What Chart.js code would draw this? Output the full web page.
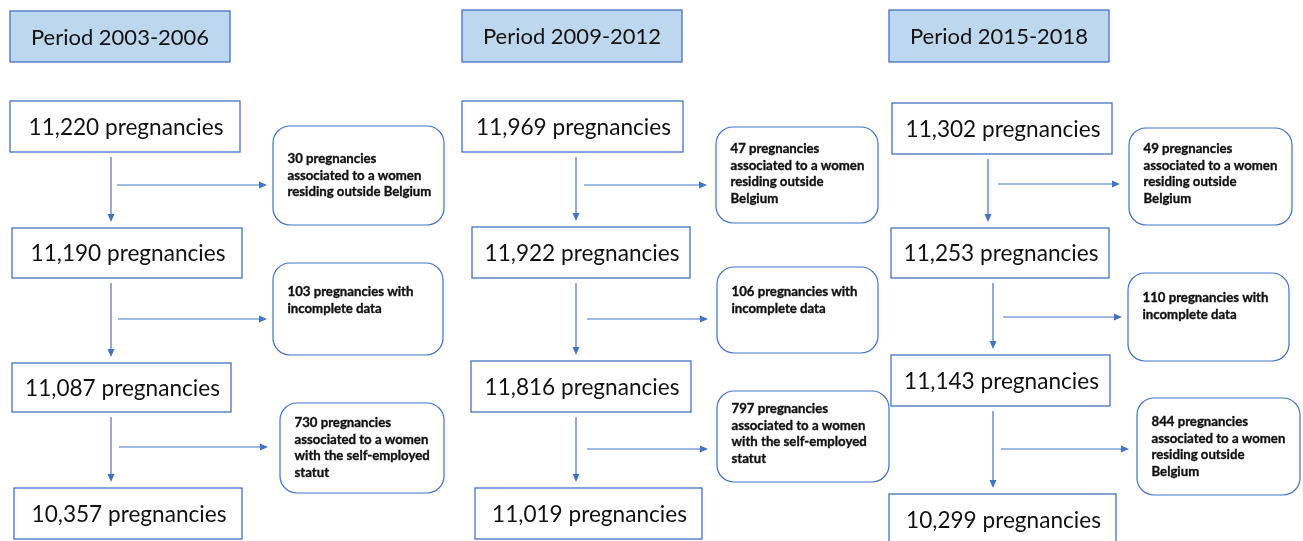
<!DOCTYPE html>
<html lang="en">

<head>
    <meta charset="UTF-8">
    <meta name="viewport" content="width=device-width, initial-scale=1.0">
    <title>Flowchart</title>
    <script src="https://cdn.jsdelivr.net/npm/chart.js"></script>
    <style>
        html, body { margin: 0; padding: 0; background: #ffffff; }
        #caixa { position: relative; width: 1303px; height: 541px; }
    </style>
</head>

<body>
    <div id="caixa">
        <canvas id="fluxo"></canvas>
    </div>

<script>
    // dados
    const periods = ['Period 2003-2006', 'Period 2009-2012', 'Period 2015-2018'];

    const included2003 = [11220, 11190, 11087, 10357];
    const included2009 = [11969, 11922, 11816, 11019];
    const included2015 = [11302, 11253, 11143, 10299];

    const excluded2003 = [30, 103, 730];
    const excluded2009 = [47, 106, 797];
    const excluded2015 = [49, 110, 844];

    // texto depois de "N pregnancies" (\n = quebra de linha como na figura)
    const reasons2003 = ['\nassociated to a women\nresiding outside Belgium', ' with\nincomplete data', '\nassociated to a women\nwith the self-employed\nstatut'];
    const reasons2009 = ['\nassociated to a women\nresiding outside\nBelgium', ' with\nincomplete data', '\nassociated to a women\nwith the self-employed\nstatut'];
    const reasons2015 = ['\nassociated to a women\nresiding outside\nBelgium', ' with\nincomplete data', '\nassociated to a women\nresiding outside\nBelgium'];

    const included = [included2003, included2009, included2015];
    const excluded = [excluded2003, excluded2009, excluded2015];
    const reasons = [reasons2003, reasons2009, reasons2015];

    // posições das caixas, em unidades dos eixos (x 0..1303, y 0..541)
    const layout = [
        {
            header: [10, 11, 220, 51],
            boxes: [[10, 101, 230, 51], [12, 228, 230, 50], [12, 363, 219, 49], [14, 488, 228, 51]],
            excl: [[273, 126, 171, 99], [273, 263, 170, 92], [280, 403, 164, 90]],
            textTop: [33, 29, 20],
            vx: [111, 111, 111],
            arrows: [[117, 267, 185], [118, 267, 319], [119, 268, 447]]
        },
        {
            header: [462, 10, 220, 52],
            boxes: [[462, 101, 221, 51], [472, 227, 218, 51], [471, 361, 220, 51], [475, 488, 227, 51]],
            excl: [[716, 127, 162, 96], [717, 267, 161, 86], [717, 391, 172, 91]],
            textTop: [22, 25, 18],
            vx: [576, 576, 576],
            arrows: [[584, 707, 185], [587, 708, 319], [587, 708, 449]]
        },
        {
            header: [889, 10, 220, 52],
            boxes: [[892, 103, 220, 51], [891, 228, 218, 50], [891, 355, 219, 51], [889, 494, 227, 52]],
            excl: [[1129, 128, 163, 97], [1128, 273, 161, 88], [1137, 398, 163, 97]],
            textTop: [21, 25, 24],
            vx: [988, 993, 993],
            arrows: [[998, 1120, 184], [1003, 1122, 317], [1001, 1129, 449]]
        }
    ];

    const azul = '#4472C4';
    const texto = '#111111';

    function fmt(n) {
        return n.toLocaleString('en-US');
    }

    const desenhoFluxo = {
        id: 'desenhoFluxo',
        afterDraw(chart) {
            const ctx = chart.ctx;
            const sx = chart.scales.x;
            const sy = chart.scales.y;
            const px = v => sx.getPixelForValue(v);
            const py = v => sy.getPixelForValue(v);

            function rect(r) {
                const x0 = px(r[0]), y0 = py(r[1]);
                return [x0, y0, px(r[0] + r[2]) - x0, py(r[1] + r[3]) - y0];
            }

            function seta(x0, y0, x1, y1) {
                ctx.strokeStyle = azul;
                ctx.fillStyle = azul;
                ctx.lineWidth = 1.2;
                const ang = Math.atan2(y1 - y0, x1 - x0);
                const tam = 8;
                ctx.beginPath();
                ctx.moveTo(x0, y0);
                ctx.lineTo(x1 - Math.cos(ang) * tam * 0.8, y1 - Math.sin(ang) * tam * 0.8);
                ctx.stroke();
                ctx.beginPath();
                ctx.moveTo(x1, y1);
                ctx.lineTo(x1 - tam * Math.cos(ang) + 3.5 * Math.sin(ang), y1 - tam * Math.sin(ang) - 3.5 * Math.cos(ang));
                ctx.lineTo(x1 - tam * Math.cos(ang) - 3.5 * Math.sin(ang), y1 - tam * Math.sin(ang) + 3.5 * Math.cos(ang));
                ctx.closePath();
                ctx.fill();
            }

            ctx.save();
            for (let c = 0; c < periods.length; c++) {
                const L = layout[c];

                // cabeçalho do período
                let [x, y, w, h] = rect(L.header);
                ctx.fillStyle = '#BDD7EE';
                ctx.fillRect(x, y, w, h);
                ctx.strokeStyle = azul;
                ctx.lineWidth = 1.3;
                ctx.strokeRect(x, y, w, h);
                ctx.fillStyle = texto;
                ctx.font = '22px Lato';
                ctx.textAlign = 'center';
                ctx.textBaseline = 'middle';
                ctx.fillText(periods[c], x + w / 2, y + h / 2 + 1);

                // caixas com o número de gestações
                for (let i = 0; i < included[c].length; i++) {
                    [x, y, w, h] = rect(L.boxes[i]);
                    ctx.fillStyle = '#ffffff';
                    ctx.fillRect(x, y, w, h);
                    ctx.strokeStyle = azul;
                    ctx.lineWidth = 1.3;
                    ctx.strokeRect(x, y, w, h);
                    ctx.fillStyle = texto;
                    ctx.font = '22.6px Lato';
                    ctx.textAlign = 'center';
                    ctx.textBaseline = 'middle';
                    ctx.fillText(fmt(included[c][i]) + ' pregnancies', x + w / 2 + 1, y + h / 2 + 1);
                }

                // exclusões
                for (let i = 0; i < excluded[c].length; i++) {
                    const b = L.boxes[i];
                    const nb = L.boxes[i + 1];
                    seta(px(L.vx[i]), py(b[1] + b[3] + 5), px(L.vx[i]), py(nb[1] - 6));
                    const a = L.arrows[i];
                    seta(px(a[0]), py(a[2]), px(a[1]), py(a[2]));

                    [x, y, w, h] = rect(L.excl[i]);
                    ctx.beginPath();
                    ctx.roundRect(x, y, w, h, 17);
                    ctx.fillStyle = '#ffffff';
                    ctx.fill();
                    ctx.strokeStyle = azul;
                    ctx.lineWidth = 1.2;
                    ctx.stroke();

                    const linhas = (excluded[c][i] + ' pregnancies' + reasons[c][i]).split('\n');
                    ctx.fillStyle = texto;
                    ctx.strokeStyle = texto;
                    ctx.lineWidth = 0.35;
                    ctx.font = 'bold 13.2px Lato';
                    ctx.textAlign = 'left';
                    ctx.textBaseline = 'middle';
                    for (let k = 0; k < linhas.length; k++) {
                        ctx.fillText(linhas[k], x + 14.5, y + L.textTop[i] + k * 16.5);
                        ctx.strokeText(linhas[k], x + 14.5, y + L.textTop[i] + k * 16.5);
                    }
                }
            }
            ctx.restore();
        }
    };

    const ctx = document.getElementById('fluxo').getContext('2d');
    new Chart(ctx, {
        type: 'scatter',
        data: { datasets: [] },
        options: {
            responsive: true,
            maintainAspectRatio: false,
            animation: false,
            layout: { padding: 0 },
            plugins: {
                legend: { display: false },
                tooltip: { enabled: false }
            },
            scales: {
                x: { type: 'linear', min: 0, max: 1303, display: false },
                y: { type: 'linear', min: 0, max: 541, reverse: true, display: false }
            }
        },
        plugins: [desenhoFluxo]
    });
</script>
</body>

</html>
